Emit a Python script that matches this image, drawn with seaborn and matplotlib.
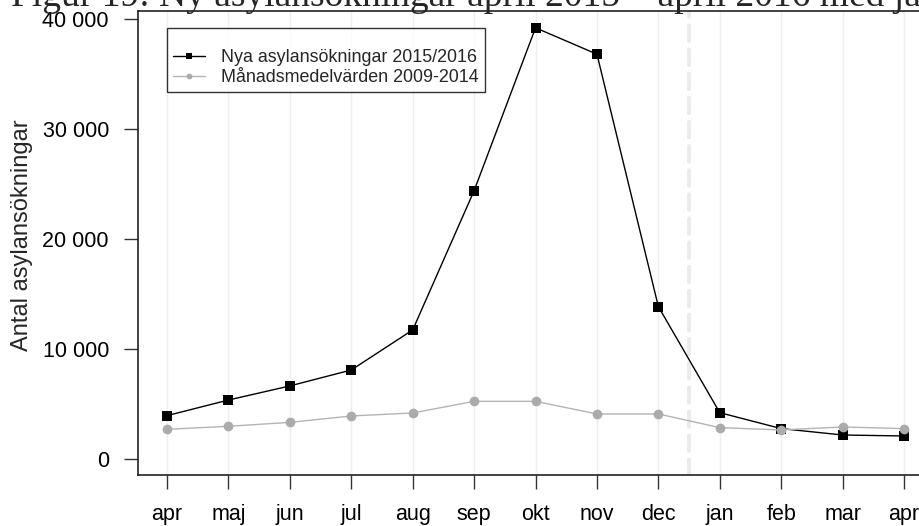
import numpy as np
import matplotlib
matplotlib.use("Agg")
import matplotlib.pyplot as plt
from matplotlib.ticker import FuncFormatter
import seaborn as sns

# data
months = ["apr", "maj", "jun", "jul", "aug", "sep", "okt", "nov", "dec", "jan", "feb", "mar", "apr"]
nya = [3940, 5360, 6640, 8090, 11730, 24390, 39200, 36800, 13850, 4210, 2760, 2180, 2090]
medel = [2700, 2970, 3330, 3910, 4180, 5240, 5240, 4090, 4090, 2850, 2640, 2910, 2760]
label_nya = "Nya asylansökningar 2015/2016"
label_medel = "Månadsmedelvärden 2009-2014"
title = "Figur 19: Ny asylansökningar april 2015 – april 2016 med jämförelse"
ylabel = "Antal asylansökningar"
yticks = [0, 10000, 20000, 30000, 40000]
year_break = 8.5  # between dec and jan

sns.set_theme(style="white")
plt.rcParams['font.family'] = ['Liberation Sans', 'DejaVu Sans']

fig = plt.figure(figsize=(9.2, 5.26), dpi=100)
ax = fig.add_axes([0.1495, 0.0970, 0.8652, 0.8821])

pos = np.arange(len(months))

ax.grid(axis='x', color='#EFEFEF', linewidth=1.0)
ax.grid(axis='y', visible=False)
ax.set_axisbelow(True)
ax.axvline(year_break, color='#EBEBEB', lw=2.8, linestyle=(0, (4, 2.2)),
           dash_capstyle='round', zorder=1.5)

sns.lineplot(x=pos, y=nya, ax=ax, color='black', marker='s', markersize=7.4,
             markeredgewidth=0, linewidth=1.0, label=label_nya, zorder=3)
sns.lineplot(x=pos, y=medel, ax=ax, color='#B4B4B4', marker='o', markersize=7.0,
             markerfacecolor='#ABABAB', markeredgewidth=0, linewidth=1.0,
             label=label_medel, zorder=4)

ax.set_xlim(-0.48, 12.48)
ax.set_ylim(-1455, 40727)
ax.set_xticks(pos)
ax.set_xticklabels(months)
ax.set_yticks(yticks)
ax.yaxis.set_major_formatter(FuncFormatter(lambda v, p: f"{int(v):,}".replace(",", " ")))

for s in ax.spines.values():
    s.set_visible(True)
    s.set_color('#222222')
    s.set_linewidth(1.2)

ax.tick_params(axis='both', direction='out', length=9.8, width=1.0, color='#333333',
               labelsize=15.5, labelcolor='black', left=True, bottom=True)
ax.tick_params(axis='x', pad=11)
ax.tick_params(axis='y', pad=10.8)

ax.set_xlabel("")
ax.set_ylabel(ylabel, fontsize=17)
ax.yaxis.set_label_coords(-0.1313, 0.517)

leg = ax.legend(loc='upper left', bbox_to_anchor=(0.037, 0.963), borderaxespad=0,
                frameon=True, fancybox=False, edgecolor='black', fontsize=12.9,
                handlelength=1.75, handletextpad=0.9, markerscale=0.6,
                borderpad=0.35, labelspacing=0.15, title=' ', title_fontsize=9)
leg.get_frame().set_linewidth(1.0)

fig.text(0.012, 1 - 6 / 526, title, family=['Liberation Serif', 'DejaVu Serif'],
         fontsize=27, va='baseline', ha='left')

fig.savefig("out.png", dpi=100)
